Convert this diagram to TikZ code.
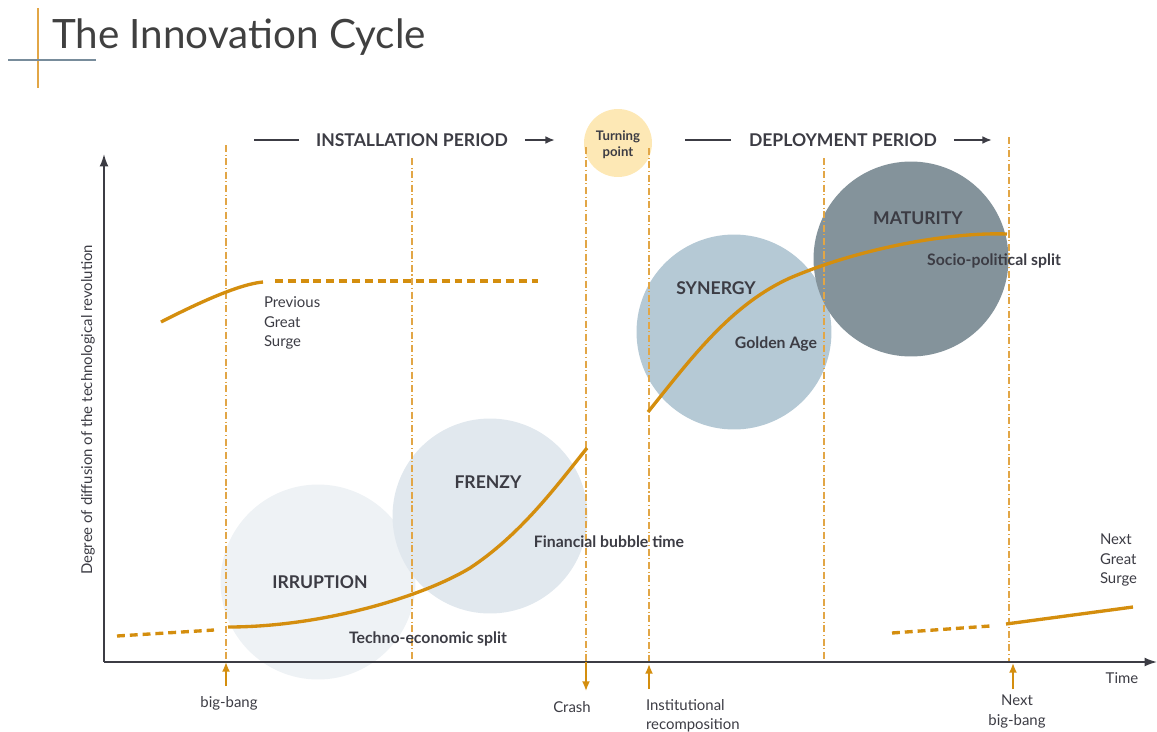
\documentclass[tikz,border=0pt]{standalone}
\usepackage{fontspec}
\setmainfont{Lato}
\usetikzlibrary{positioning,arrows.meta}
\definecolor{textgray}{RGB}{60,60,68}
\definecolor{titlegray}{RGB}{64,64,64}
\definecolor{curveorange}{RGB}{212,142,14}
\definecolor{lineorange}{RGB}{226,166,70}
\definecolor{tpyellow}{RGB}{253,232,181}
\definecolor{irruptioncol}{RGB}{238,242,245}
\definecolor{frenzycol}{RGB}{225,232,238}
\definecolor{synergycol}{RGB}{181,201,213}
\definecolor{maturitycol}{RGB}{132,147,155}
\definecolor{rulegray}{RGB}{120,140,155}

\begin{document}
\begin{tikzpicture}[x=0.02cm,y=-0.02cm,>={Latex[length=5.5pt,width=4.5pt]},
  every node/.style={text=textgray,inner sep=0pt,outer sep=0pt},
  phase/.style={circle,minimum size=3.9cm,draw=none},
  caps/.style={font=\bfseries\fontsize{10}{12}\selectfont},
  split/.style={font=\bfseries\fontsize{9}{11}\selectfont},
  note/.style={font=\fontsize{8.5}{11}\selectfont,align=left},
  marker/.style={draw=lineorange,line width=0.7pt,dash pattern=on 4pt off 1.5pt on 0.6pt off 1.5pt},
  surge/.style={draw=curveorange,line width=1.9pt},
  surgedash/.style={surge,dash pattern=on 4.5pt off 2.8pt},
  period/.style={draw=textgray,line width=1.1pt},
  event/.style={->,draw=curveorange,line width=0.9pt},
  axis/.style={-{Latex[length=7pt,width=5pt]},draw=textgray,line width=0.9pt}]

        \useasboundingbox (0,0) rectangle (1157,731);

        % title
        \draw [lineorange,line width=1pt] (38,8) -- (38,88);
        \draw [rulegray,line width=0.8pt] (8,60) -- (96,60);
        \node [anchor=base west,text=titlegray,font=\fontsize{23}{28}\selectfont] at (52,48) (title) {The Innovation Cycle};

        % phases
        \node [phase,fill=irruptioncol] at (318,582) (irruption) {};
        \node [phase,fill=frenzycol] at (490,516) (frenzy) {};
        \node [phase,fill=synergycol] at (734,332) (synergy) {};
        \node [phase,fill=maturitycol] at (911,259) (maturity) {};
        \node [circle,minimum size=1.36cm,fill=tpyellow] at (618,143) (turning) {};
        \node [align=center,font=\bfseries\fontsize{7.5}{9}\selectfont] at (618,145) (turninglabel) {Turning\\point};

        % period markers
        \draw [marker] (226,145) -- (226,662);
        \draw [marker] (412,158) -- (412,662);
        \draw [marker] (586,147) -- (586,662);
        \draw [marker] (649,148) -- (649,662);
        \draw [marker] (824,158) -- (824,662);
        \draw [marker] (1009,137) -- (1009,662);

        % axes
        \coordinate (origin) at (104,662);
        \coordinate (ytop) at (104,154);
        \coordinate (xend) at (1157,662);
        \draw [axis] (origin) -- (ytop);
        \draw [axis] (origin) -- (xend);
        \node [rotate=90,font=\fontsize{8.5}{10}\selectfont] at (88,410) (ylabel) {Degree of diffusion of the technological revolution};
        \node [font=\fontsize{8.5}{10}\selectfont] at (1122,678) (time) {Time};

        % periods
        \node [caps] at (412,140) (installation) {INSTALLATION PERIOD};
        \draw [period] (installation.west) ++(-17,0) -- ++(-45,0);
        \draw [period,->] (installation.east) ++(17,0) -- ++(30,0);
        \node [caps] at (843,140) (deployment) {DEPLOYMENT PERIOD};
        \draw [period] (deployment.west) ++(-18,0) -- ++(-46,0);
        \draw [period,->] (deployment.east) ++(17,0) -- ++(38,0);

        % surges
        \draw [surge] (161,322) .. controls (200,302) and (240,284) .. (263,282);
        \draw [surgedash] (275,281) -- (538,281);
        \draw [surgedash] (117,636) -- (214,630);
        \draw [surge] (228,627) .. controls (320,627) and (420,598) .. (470,568)
                      .. controls (520,535) and (555,488) .. (587,448);
        \draw [surge] (648,412) .. controls (690,360) and (730,305) .. (790,278)
                      .. controls (860,248) and (950,232) .. (1007,234);
        \draw [surgedash] (892,633) -- (990,626);
        \draw [surge] (1006,624) -- (1133,607);

        % phase labels
        \node [caps] at (320,582) (irruptiontext) {IRRUPTION};
        \node [caps] at (488,482) (frenzytext) {FRENZY};
        \node [caps] at (716,288) (synergytext) {SYNERGY};
        \node [caps] at (918,218) (maturitytext) {MATURITY};
        \node [split] at (428,639) (technosplit) {Techno-economic split};
        \node [split] at (609,542) (bubble) {Financial bubble time};
        \node [split] at (776,344) (golden) {Golden Age};
        \node [split] at (994,261) (sociosplit) {Socio-political split};
        \node [note,anchor=north west] at (264,297) (previous) {Previous\\Great\\Surge};
        \node [note,anchor=north west] at (1100,534) (nextsurge) {Next\\Great\\Surge};

        % events
        \coordinate (bigbang foot) at (226,686);
        \coordinate (bigbang head) at (226,662);
        \draw [event] (bigbang foot) -- (bigbang head);
        \node [note] at (229,703) (bigbang) {big-bang};
        \coordinate (crash top) at (586,662);
        \coordinate (crash tip) at (586,691);
        \draw [event] (crash top) -- (crash tip);
        \node [note] at (572,707) (crash) {Crash};
        \coordinate (inst foot) at (649,689);
        \coordinate (inst head) at (649,664);
        \draw [event] (inst foot) -- (inst head);
        \node [note,anchor=north west] at (646,699) (institutional) {Institutional\\recomposition};
        \coordinate (next foot) at (1013,689);
        \coordinate (next head) at (1013,663);
        \draw [event] (next foot) -- (next head);
        \node [note,align=center,anchor=north] at (1017,695) (nextbang) {Next\\big-bang};

\end{tikzpicture}
\end{document}
